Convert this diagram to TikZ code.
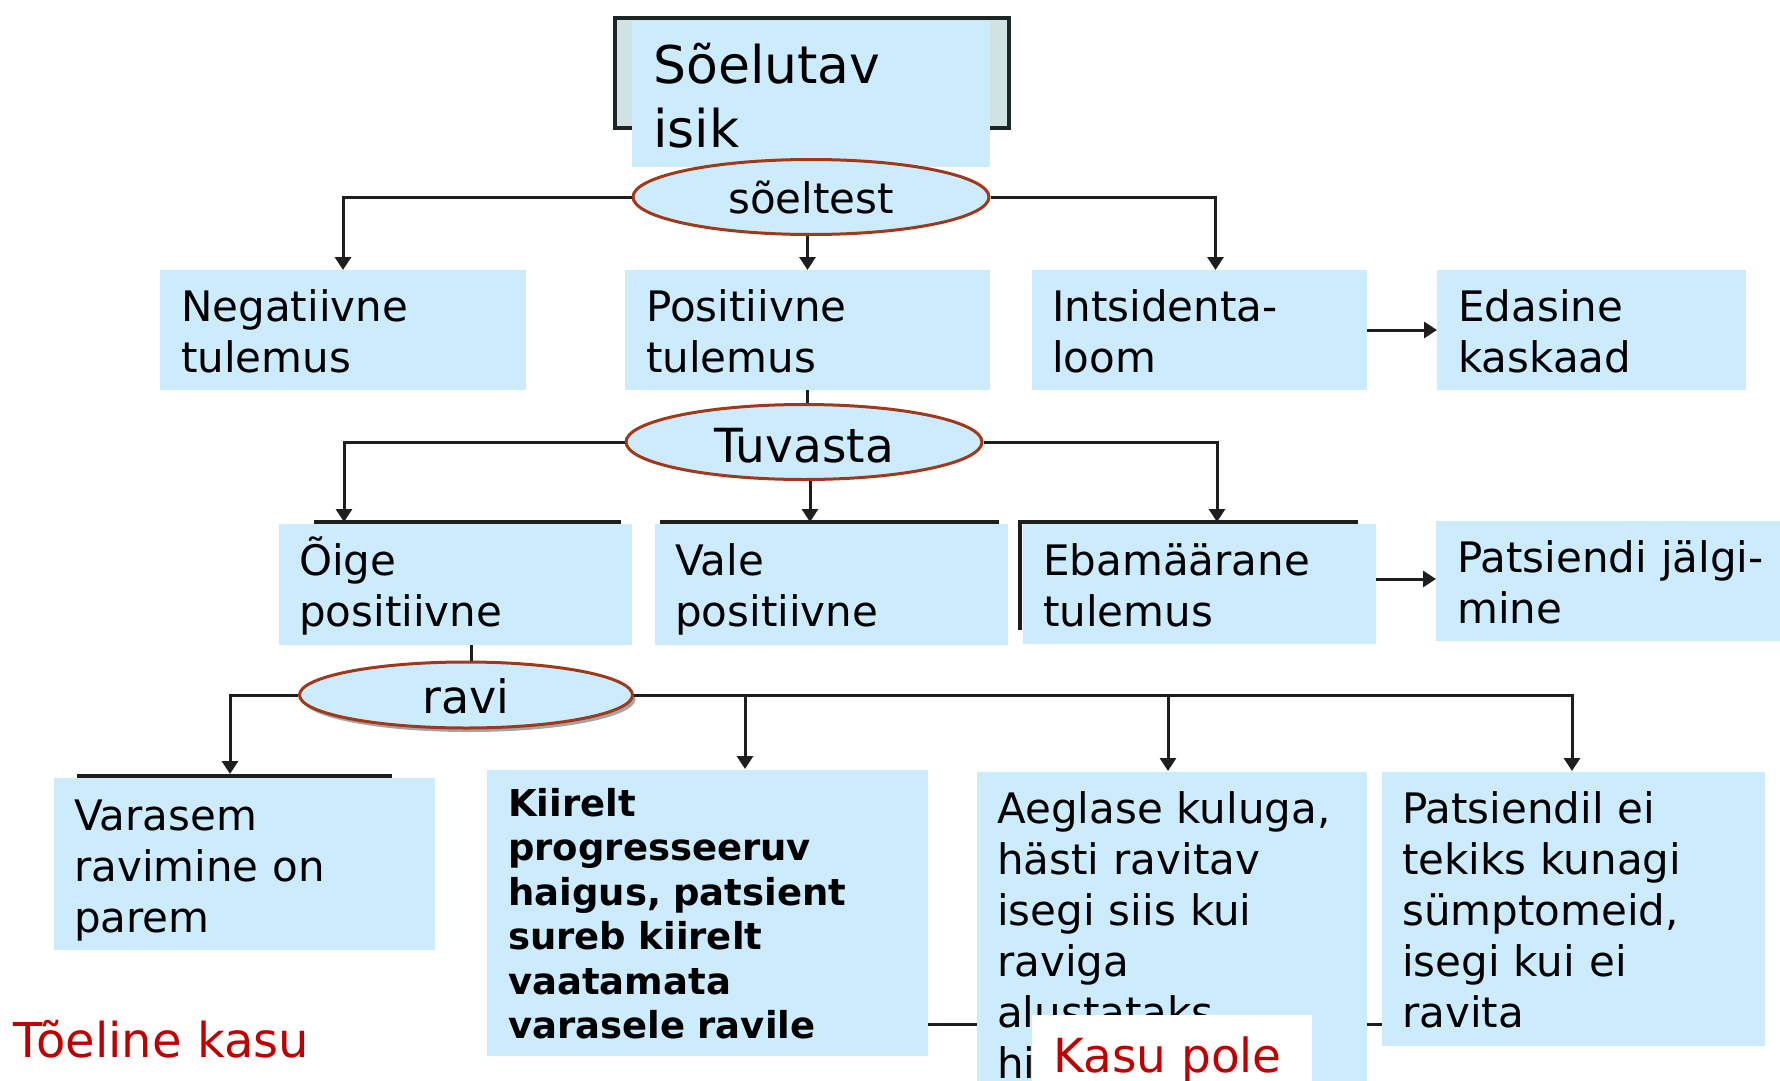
\documentclass[tikz,border=0pt]{standalone}
\usepackage{fontspec}
\setmainfont{DejaVu Sans}
\usetikzlibrary{shapes.geometric,arrows.meta,shadows}
\definecolor{boxblue}{HTML}{CCEBFD}
\definecolor{framefill}{HTML}{D0E2E2}
\definecolor{framedraw}{HTML}{1C2626}
\definecolor{ellred}{HTML}{A0381A}
\definecolor{linec}{HTML}{1E1E1E}
\definecolor{kasured}{HTML}{C00000}
\pgfdeclarelayer{bg}
\pgfsetlayers{bg,main}
\begin{document}
\begin{tikzpicture}[x=1pt,y=-1pt,
  box/.style={fill=boxblue, draw=none, inner sep=0pt, outer sep=0pt, anchor=north west},
  txt/.style={inner sep=0pt, anchor=base west, align=left, text width=#1, font=\fontsize{42}{51}\selectfont},
  txt/.default=400pt,
  oval/.style={ellipse, draw=ellred, line width=3pt, fill=boxblue, inner sep=0pt, text depth=0pt},
  conn/.style={draw=linec, line width=3pt},
  arr/.style={conn, -{Triangle[length=13pt,width=16pt]}},
  topline/.style={draw=linec, line width=3.2pt},
  redtxt/.style={inner sep=0pt, anchor=base west, text=kasured},
]
\useasboundingbox (0,0) rectangle (1780,1081);

% top
\node[draw=framedraw, line width=4pt, fill=framefill, minimum width=394pt, minimum height=110pt, anchor=north west, inner sep=0pt] (frame) at (613,16) {};
\node[box, minimum width=358pt, minimum height=146pt] (sei) at (632,21) {};
\node[txt, font=\fontsize{52}{64}\selectfont] (sei-t) at (653,84) {Sõelutav\\isik};
\node[oval, minimum width=356pt, minimum height=75pt, text height=32pt, font=\fontsize{42}{50}\selectfont] (s) at (811,197) {sõeltest};

% row 2
\node[box, minimum width=366pt, minimum height=120pt] (neg) at (160,270) {};
\node[txt] (neg-t) at (181,321) {Negatiivne\\tulemus};
\node[box, minimum width=365pt, minimum height=120pt] (pos) at (625,270) {};
\node[txt] (pos-t) at (646,321) {Positiivne\\tulemus};
\node[box, minimum width=335pt, minimum height=120pt] (int) at (1032,270) {};
\node[txt] (int-t) at (1052,321) {Intsidenta-\\loom};
\node[box, minimum width=309pt, minimum height=120pt] (eda) at (1437,270) {};
\node[txt] (eda-t) at (1458,321) {Edasine\\kaskaad};

\draw[arr] (s.west) -| (neg.north);
\draw[arr] (s.south -| pos.north) -- (pos.north);
\draw[arr] (s.east) -| ([xshift=16pt]int.north);
\draw[arr] (int.east) -- (eda.west);

% Tuvasta
\node[oval, minimum width=356pt, minimum height=75pt, text height=40pt, font=\fontsize{47}{56}\selectfont] (t) at (804,442) {Tuvasta};
\draw[conn] (pos.south) -- (pos.south |- t.north);

% row 3
\node[box, minimum width=353pt, minimum height=121pt] (oige) at (279,524) {};
\node[txt] (oige-t) at (299,575) {Õige\\positiivne};
\node[box, minimum width=353pt, minimum height=121pt] (vale) at (655,524) {};
\node[txt] (vale-t) at (675,575) {Vale\\positiivne};
\node[box, minimum width=353pt, minimum height=120pt] (ebam) at (1023,524) {};
\node[txt] (ebam-t) at (1043,575) {Ebamäärane\\tulemus};
\node[box, minimum width=350pt, minimum height=120pt] (pj) at (1436,521) {};
\node[txt] (pj-t) at (1457,572) {Patsiendi jälgi-\\mine};

\draw[topline] ([xshift=35pt,yshift=2pt]oige.north west) -- ([xshift=-11pt,yshift=2pt]oige.north east);
\draw[topline] ([xshift=5pt,yshift=2pt]vale.north west) -- ([xshift=-9pt,yshift=2pt]vale.north east);
\draw[topline] ([xshift=-3pt,yshift=14pt]ebam.south west) -- ([xshift=-3pt,yshift=2pt]ebam.north west) -- ([xshift=-18pt,yshift=2pt]ebam.north east);

\coordinate (a-oige) at (344,522);
\coordinate (a-vale) at (810,522);
\coordinate (a-ebam) at (1217,522);
\draw[arr] (t.west) -| (a-oige);
\draw[arr] (t.south -| a-vale) -- (a-vale);
\draw[arr] (t.east) -| (a-ebam);
\draw[arr] ([yshift=5pt]ebam.east) -- ([yshift=5pt]ebam.east -| pj.west);

% ravi
\node[oval, minimum width=333pt, minimum height=66pt, text height=36pt, font=\fontsize{46}{55}\selectfont,
  drop shadow={shadow xshift=3pt, shadow yshift=-4pt, fill=black!70}] (ravi) at (466,695) {ravi};
\draw[conn] ([xshift=16pt]oige.south) -- ([xshift=16pt]oige.south |- ravi.north);

% bottom row
\node[box, minimum width=381pt, minimum height=172pt] (var) at (54,778) {};
\node[txt] (var-t) at (74,830) {Varasem\\ravimine on\\parem};
\draw[topline] ([xshift=23pt,yshift=2pt]var.north west) -- ([xshift=-43pt,yshift=2pt]var.north east);

\node[box, minimum width=441pt, minimum height=286pt] (kii) at (487,770) {};
\node[txt, font=\bfseries\fontsize{37}{44.5}\selectfont] (kii-t) at (508,816) {Kiirelt\\progresseeruv\\haigus, patsient\\sureb kiirelt\\vaatamata\\varasele ravile};

\node[box, minimum width=390pt, minimum height=320pt] (aeg) at (977,772) {};
\node[txt] (aeg-t) at (997,823) {Aeglase kuluga,\\hästi ravitav\\isegi siis kui\\raviga\\alustataks\\hiljem};

\node[box, minimum width=383pt, minimum height=274pt] (pat) at (1382,772) {};
\node[txt] (pat-t) at (1402,823) {Patsiendil ei\\tekiks kunagi\\sümptomeid,\\isegi kui ei\\ravita};

\begin{pgfonlayer}{bg}
\draw[conn] ([yshift=-111pt]kii.east) -- ([yshift=-111pt]kii.east -| pat.west);
\end{pgfonlayer}

\coordinate (a-var) at (230,774);
\coordinate (a-kii) at (745,769);
\coordinate (a-aeg) at (1168,771);
\coordinate (a-pat) at (1572,771);
\draw[arr] (ravi.west) -| (a-var);
\draw[arr] (ravi.east) -| (a-pat);
\draw[arr] (ravi.east -| a-kii) -- (a-kii);
\draw[arr] (ravi.east -| a-aeg) -- (a-aeg);

% labels
\node[fill=white, inner sep=0pt, outer sep=0pt, anchor=north west, minimum width=280pt, minimum height=80pt] (kp) at (1032,1015) {};
\node[redtxt, font=\fontsize{47}{56}\selectfont] (kp-t) at (1053,1072) {Kasu pole};
\node[redtxt, font=\fontsize{48}{57}\selectfont] (tk-t) at (13,1057) {Tõeline kasu};
\end{tikzpicture}
\end{document}
